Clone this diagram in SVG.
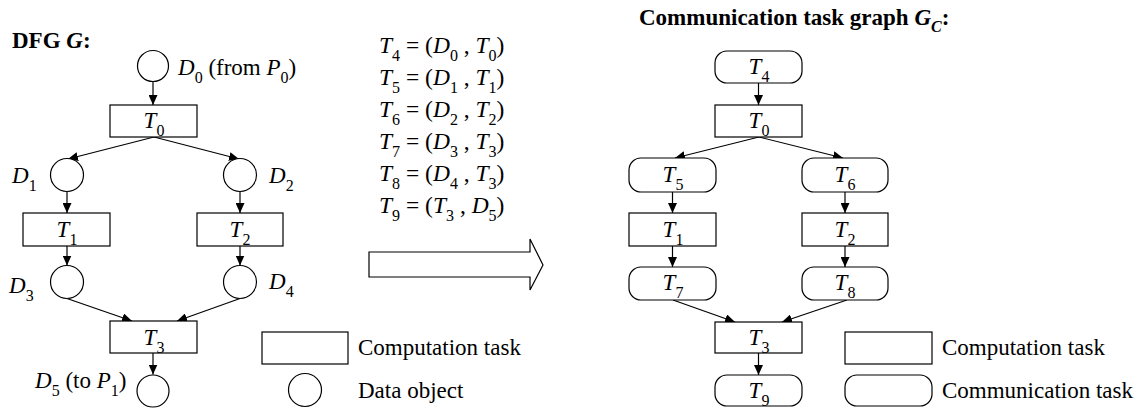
<svg xmlns="http://www.w3.org/2000/svg" width="1145" height="408" viewBox="0 0 1145 408">
  <style>
    text { font-family: "Liberation Serif", "Times New Roman", serif; font-size: 23px; fill: #000; }
    .i { font-style: italic; }
    .s { font-size: 16px; font-style: normal; }
    .b { font-weight: bold; }
    .lbl { text-anchor: middle; }
    .eq { font-size: 23.5px; }
    .box { fill: #fff; stroke: #000; stroke-width: 1.2; }
    .edge { stroke: #000; stroke-width: 1.2; fill: none; marker-end: url(#arr); }
  </style>
  <defs>
    <marker id="arr" markerUnits="userSpaceOnUse" markerWidth="10" markerHeight="9" refX="10" refY="4.5" orient="auto">
      <path d="M0,0 L10,4.5 L0,9 z" fill="#000"/>
    </marker>
  </defs>
  <rect width="1145" height="408" fill="#fff"/>

  <!-- Left: data flow graph -->
  <text class="b" x="12" y="48">DFG <tspan class="i">G</tspan>:</text>

  <g id="conn-dfg">
    <line class="edge" x1="153" y1="81.5" x2="153" y2="105"/>
    <line class="edge" x1="154" y1="137" x2="68" y2="159"/>
    <line class="edge" x1="154" y1="137" x2="239" y2="159"/>
    <line class="edge" x1="67" y1="191.5" x2="67" y2="213"/>
    <line class="edge" x1="240" y1="191.5" x2="240" y2="213"/>
    <line class="edge" x1="67" y1="246" x2="67" y2="265.5"/>
    <line class="edge" x1="240" y1="246" x2="240" y2="265.5"/>
    <line class="edge" x1="67" y1="298.5" x2="132" y2="321"/>
    <line class="edge" x1="240" y1="298.5" x2="177" y2="321"/>
    <line class="edge" x1="153" y1="353" x2="153" y2="374.5"/>
  </g>

  <g id="d0">
    <circle class="box" cx="153" cy="66" r="15.5"/>
    <text x="178" y="75"><tspan class="i">D</tspan><tspan class="s" dy="8">0</tspan><tspan dy="-8"> (from </tspan><tspan class="i">P</tspan><tspan class="s" dy="8">0</tspan><tspan dy="-8">)</tspan></text>
  </g>
  <g id="t0">
    <rect class="box" x="110" y="105" width="87" height="32"/>
    <text class="lbl" x="154" y="128"><tspan class="i">T</tspan><tspan class="s" dy="8">0</tspan></text>
  </g>
  <g id="d1">
    <circle class="box" cx="67" cy="175" r="16.5"/>
    <text x="12" y="183"><tspan class="i">D</tspan><tspan class="s" dy="8">1</tspan></text>
  </g>
  <g id="d2">
    <circle class="box" cx="240" cy="175" r="16.5"/>
    <text x="269" y="183"><tspan class="i">D</tspan><tspan class="s" dy="8">2</tspan></text>
  </g>
  <g id="t1">
    <rect class="box" x="23" y="213" width="87" height="33"/>
    <text class="lbl" x="67" y="237"><tspan class="i">T</tspan><tspan class="s" dy="8">1</tspan></text>
  </g>
  <g id="t2">
    <rect class="box" x="197" y="213" width="86" height="33"/>
    <text class="lbl" x="240" y="237"><tspan class="i">T</tspan><tspan class="s" dy="8">2</tspan></text>
  </g>
  <g id="d3">
    <circle class="box" cx="67" cy="282" r="16.5"/>
    <text x="9" y="293"><tspan class="i">D</tspan><tspan class="s" dy="8">3</tspan></text>
  </g>
  <g id="d4">
    <circle class="box" cx="240" cy="282" r="16.5"/>
    <text x="269" y="289"><tspan class="i">D</tspan><tspan class="s" dy="8">4</tspan></text>
  </g>
  <g id="t3">
    <rect class="box" x="110" y="321" width="87" height="32"/>
    <text class="lbl" x="154" y="345"><tspan class="i">T</tspan><tspan class="s" dy="8">3</tspan></text>
  </g>
  <g id="d5">
    <circle class="box" cx="153" cy="391" r="16"/>
    <text x="35" y="388"><tspan class="i">D</tspan><tspan class="s" dy="8">5</tspan><tspan dy="-8"> (to </tspan><tspan class="i">P</tspan><tspan class="s" dy="8">1</tspan><tspan dy="-8">)</tspan></text>
  </g>

  <!-- Left legend -->
  <g id="legend-left">
    <rect class="box" x="262" y="332" width="86" height="32"/>
    <text x="358" y="355">Computation task</text>
    <circle class="box" cx="305" cy="390" r="16.5"/>
    <text x="358" y="398">Data object</text>
  </g>

  <!-- Middle: task definitions and transform arrow -->
  <g id="definitions">
    <text class="eq" x="379" y="53"><tspan class="i">T</tspan><tspan class="s" dy="8">4</tspan><tspan dy="-8"> = (</tspan><tspan class="i">D</tspan><tspan class="s" dy="8">0</tspan><tspan dy="-8"> , </tspan><tspan class="i">T</tspan><tspan class="s" dy="8">0</tspan><tspan dy="-8">)</tspan></text>
    <text class="eq" x="379" y="85"><tspan class="i">T</tspan><tspan class="s" dy="8">5</tspan><tspan dy="-8"> = (</tspan><tspan class="i">D</tspan><tspan class="s" dy="8">1</tspan><tspan dy="-8"> , </tspan><tspan class="i">T</tspan><tspan class="s" dy="8">1</tspan><tspan dy="-8">)</tspan></text>
    <text class="eq" x="379" y="117"><tspan class="i">T</tspan><tspan class="s" dy="8">6</tspan><tspan dy="-8"> = (</tspan><tspan class="i">D</tspan><tspan class="s" dy="8">2</tspan><tspan dy="-8"> , </tspan><tspan class="i">T</tspan><tspan class="s" dy="8">2</tspan><tspan dy="-8">)</tspan></text>
    <text class="eq" x="379" y="149"><tspan class="i">T</tspan><tspan class="s" dy="8">7</tspan><tspan dy="-8"> = (</tspan><tspan class="i">D</tspan><tspan class="s" dy="8">3</tspan><tspan dy="-8"> , </tspan><tspan class="i">T</tspan><tspan class="s" dy="8">3</tspan><tspan dy="-8">)</tspan></text>
    <text class="eq" x="379" y="181"><tspan class="i">T</tspan><tspan class="s" dy="8">8</tspan><tspan dy="-8"> = (</tspan><tspan class="i">D</tspan><tspan class="s" dy="8">4</tspan><tspan dy="-8"> , </tspan><tspan class="i">T</tspan><tspan class="s" dy="8">3</tspan><tspan dy="-8">)</tspan></text>
    <text class="eq" x="379" y="213"><tspan class="i">T</tspan><tspan class="s" dy="8">9</tspan><tspan dy="-8"> = (</tspan><tspan class="i">T</tspan><tspan class="s" dy="8">3</tspan><tspan dy="-8"> , </tspan><tspan class="i">D</tspan><tspan class="s" dy="8">5</tspan><tspan dy="-8">)</tspan></text>
  </g>
  <polygon id="transform-arrow" class="box" points="369,252 530,252 530,239 543,265 530,290 530,277 369,277"/>

  <!-- Right: communication task graph -->
  <text class="b" x="639" y="25">Communication task graph <tspan class="i">G</tspan><tspan class="s" dy="7" style="font-style:italic">C</tspan><tspan dy="-7">:</tspan></text>

  <g id="conn-gc">
    <line class="edge" x1="758.5" y1="83" x2="758.5" y2="105"/>
    <line class="edge" x1="759" y1="137" x2="675" y2="158"/>
    <line class="edge" x1="759" y1="137" x2="843" y2="158"/>
    <line class="edge" x1="672.5" y1="192" x2="672.5" y2="213"/>
    <line class="edge" x1="845" y1="192" x2="845" y2="213"/>
    <line class="edge" x1="672.5" y1="246" x2="672.5" y2="267"/>
    <line class="edge" x1="845" y1="246" x2="845" y2="267"/>
    <line class="edge" x1="673" y1="300" x2="735" y2="322"/>
    <line class="edge" x1="847" y1="300" x2="782" y2="322"/>
    <line class="edge" x1="758.5" y1="353" x2="758.5" y2="375"/>
  </g>

  <g id="gc-t4">
    <rect class="box" x="715" y="51" width="87" height="32" rx="12"/>
    <text class="lbl" x="759" y="74"><tspan class="i">T</tspan><tspan class="s" dy="8">4</tspan></text>
  </g>
  <g id="gc-t0">
    <rect class="box" x="715" y="105" width="87" height="32"/>
    <text class="lbl" x="759" y="128"><tspan class="i">T</tspan><tspan class="s" dy="8">0</tspan></text>
  </g>
  <g id="gc-t5">
    <rect class="box" x="629" y="158" width="87" height="34" rx="12"/>
    <text class="lbl" x="673" y="182"><tspan class="i">T</tspan><tspan class="s" dy="8">5</tspan></text>
  </g>
  <g id="gc-t6">
    <rect class="box" x="802" y="158" width="86" height="34" rx="12"/>
    <text class="lbl" x="845" y="182"><tspan class="i">T</tspan><tspan class="s" dy="8">6</tspan></text>
  </g>
  <g id="gc-t1">
    <rect class="box" x="629" y="213" width="87" height="33"/>
    <text class="lbl" x="673" y="237"><tspan class="i">T</tspan><tspan class="s" dy="8">1</tspan></text>
  </g>
  <g id="gc-t2">
    <rect class="box" x="802" y="213" width="86" height="33"/>
    <text class="lbl" x="845" y="237"><tspan class="i">T</tspan><tspan class="s" dy="8">2</tspan></text>
  </g>
  <g id="gc-t7">
    <rect class="box" x="629" y="267" width="87" height="33" rx="12"/>
    <text class="lbl" x="673" y="290"><tspan class="i">T</tspan><tspan class="s" dy="8">7</tspan></text>
  </g>
  <g id="gc-t8">
    <rect class="box" x="802" y="267" width="86" height="33" rx="12"/>
    <text class="lbl" x="845" y="290"><tspan class="i">T</tspan><tspan class="s" dy="8">8</tspan></text>
  </g>
  <g id="gc-t3">
    <rect class="box" x="715" y="322" width="87" height="31"/>
    <text class="lbl" x="759" y="345"><tspan class="i">T</tspan><tspan class="s" dy="8">3</tspan></text>
  </g>
  <g id="gc-t9">
    <rect class="box" x="715" y="375" width="87" height="31" rx="12"/>
    <text class="lbl" x="759" y="398"><tspan class="i">T</tspan><tspan class="s" dy="8">9</tspan></text>
  </g>

  <!-- Right legend -->
  <g id="legend-right">
    <rect class="box" x="845" y="332" width="87" height="32"/>
    <text x="942" y="355">Computation task</text>
    <rect class="box" x="845" y="375" width="87" height="31" rx="12"/>
    <text x="942" y="398">Communication task</text>
  </g>
</svg>
